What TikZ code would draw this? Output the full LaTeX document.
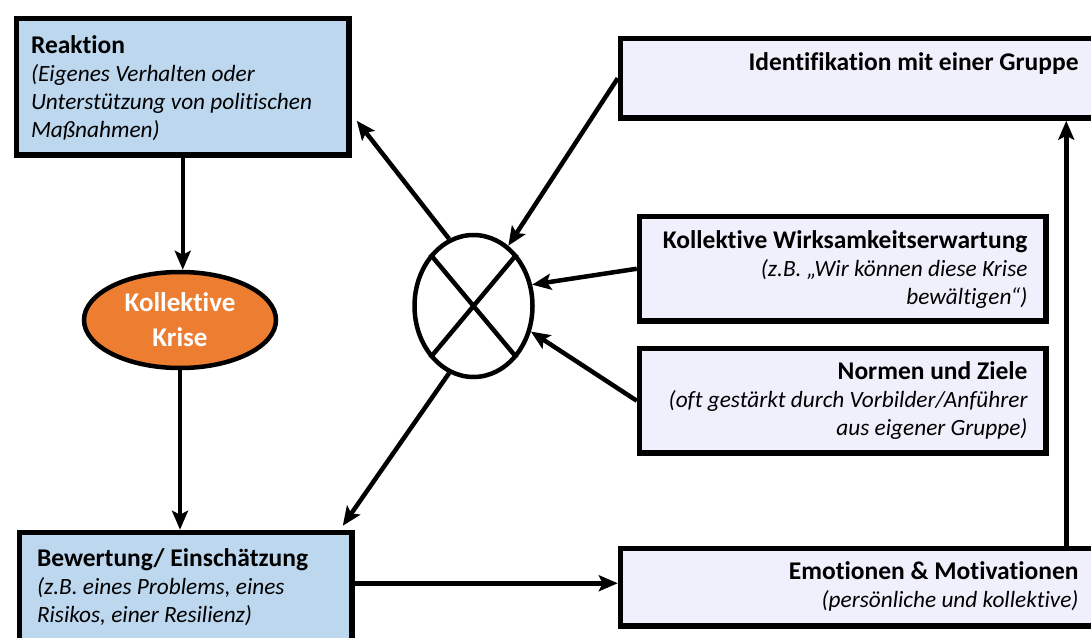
\documentclass[tikz,border=0pt]{standalone}
\usepackage{fontspec}
\setmainfont[Ligatures=NoCommon]{Carlito}
\usetikzlibrary{arrows.meta,shapes.geometric}

\definecolor{boxblue}{RGB}{189,215,238}
\definecolor{boxlav}{RGB}{240,240,252}
\definecolor{kriseorange}{RGB}{237,125,49}

\newcommand{\zusatz}[1]{{\fontsize{23.3}{28}\selectfont\itshape #1}}

\tikzset{every picture/.style={line width=4.5pt},
  bluebox/.style={draw, fill=boxblue, line width=5.5pt, inner sep=0pt, anchor=north west},
  lavbox/.style={draw, fill=boxlav, line width=5.5pt, inner sep=0pt, anchor=north west},
  txt/.style={inner sep=0pt, font=\fontsize{25.5}{28}\selectfont},
  pfeil/.style={-{Stealth[length=19pt,width=16pt,inset=4pt]}, line width=4.5pt}
}

\begin{document}
\begin{tikzpicture}[x=1pt,y=1pt,yscale=-1]
\useasboundingbox (0,0) rectangle (1091,637);
\clip (0,0) rectangle (1091,637);

%Rect [Reaktion]
\node[bluebox, minimum width=332.5pt, minimum height=136.5pt] (reak) at (13.75,15.75) {};
%Rect [Bewertung]
\node[bluebox, minimum width=332.5pt, minimum height=140pt] (bew) at (16.75,529.75) {};
%Rect [Identifikation]
\node[lavbox, minimum width=490pt, minimum height=79.5pt] (ident) at (617.75,35.75) {};
%Rect [Wirksamkeit]
\node[lavbox, minimum width=406.5pt, minimum height=104.5pt] (koll) at (636.75,213.75) {};
%Rect [Normen]
\node[lavbox, minimum width=406.5pt, minimum height=104.5pt] (norm) at (636.75,345.75) {};
%Rect [Emotionen]
\node[lavbox, minimum width=490pt, minimum height=77.5pt] (emo) at (617.75,545.75) {};

%Shape: Ellipse [Krise]
\node[ellipse, draw, fill=kriseorange, line width=4.5pt, minimum width=192pt, minimum height=96pt, inner sep=0pt,
  align=center, text=white, font=\bfseries\fontsize{27}{35}\selectfont] (krise) at (180,320) {Kollektive\\Krise};

%Shape: Ellipse [Verknuepfung]
\node[ellipse, draw, line width=4.5pt, minimum width=118pt, minimum height=142pt, inner sep=0pt] (mult) at (473.5,306) {};
\draw (mult.north west) -- (mult.south east) (mult.north east) -- (mult.south west);

%Straight Lines
\draw[pfeil] (reak.south) -- (reak.south |- krise.north);
\draw[pfeil] (krise.south) -- (krise.south |- bew.north);
\draw[pfeil] (mult.110) -- ([shift={(5pt,34pt)}]reak.east);
\draw[pfeil] (ident.west) -- (mult.60);
\draw[pfeil] (koll.west) -- (mult.20);
\draw[pfeil] (norm.west) -- (mult.-24);
\draw[pfeil] (mult.-110) -- ([shift={(-12pt,-4pt)}]bew.north east);
\coordinate (emoin) at ([yshift=-4pt]emo.west);
\draw[pfeil] (emoin -| bew.east) -- (emoin);
\draw[pfeil] ([xshift=-47pt]emo.north east) -- ([xshift=-47pt]ident.south east);

% Text Node
\node[txt, anchor=north west, align=left] (reaktxt) at ([shift={(15pt,17.5pt)}]reak.north west)
  {\textbf{Reaktion}\\\zusatz{(Eigenes Verhalten oder}\\\zusatz{Unterstützung von politischen}\\\zusatz{Maßnahmen)}};
% Text Node
\node[txt, anchor=north west, align=left] (bewtxt) at ([shift={(18pt,16.5pt)}]bew.north west)
  {\textbf{Bewertung/ Einschätzung}\\\zusatz{(z.B. eines Problems, eines}\\\zusatz{Risikos, einer Resilienz)}};
% Text Node
\node[txt, anchor=north east, align=right] (identtxt) at ([shift={(-32.5pt,14.5pt)}]ident.north east)
  {\textbf{Identifikation mit einer Gruppe}};
% Text Node
\node[txt, anchor=north east, align=right] (kolltxt) at ([shift={(-19pt,14.5pt)}]koll.north east)
  {\textbf{Kollektive Wirksamkeitserwartung}\\\zusatz{(z.B. „Wir können diese Krise}\\\zusatz{bewältigen“)}};
% Text Node
\node[txt, anchor=north east, align=right] (normtxt) at ([shift={(-19pt,14pt)}]norm.north east)
  {\textbf{Normen und Ziele}\\\zusatz{(oft gestärkt durch Vorbilder/Anführer}\\\zusatz{aus eigener Gruppe)}};
% Text Node
\node[txt, anchor=north east, align=right] (emotxt) at ([shift={(-32.5pt,14pt)}]emo.north east)
  {\textbf{Emotionen \& Motivationen}\\\zusatz{(persönliche und kollektive)}};

\end{tikzpicture}
\end{document}
